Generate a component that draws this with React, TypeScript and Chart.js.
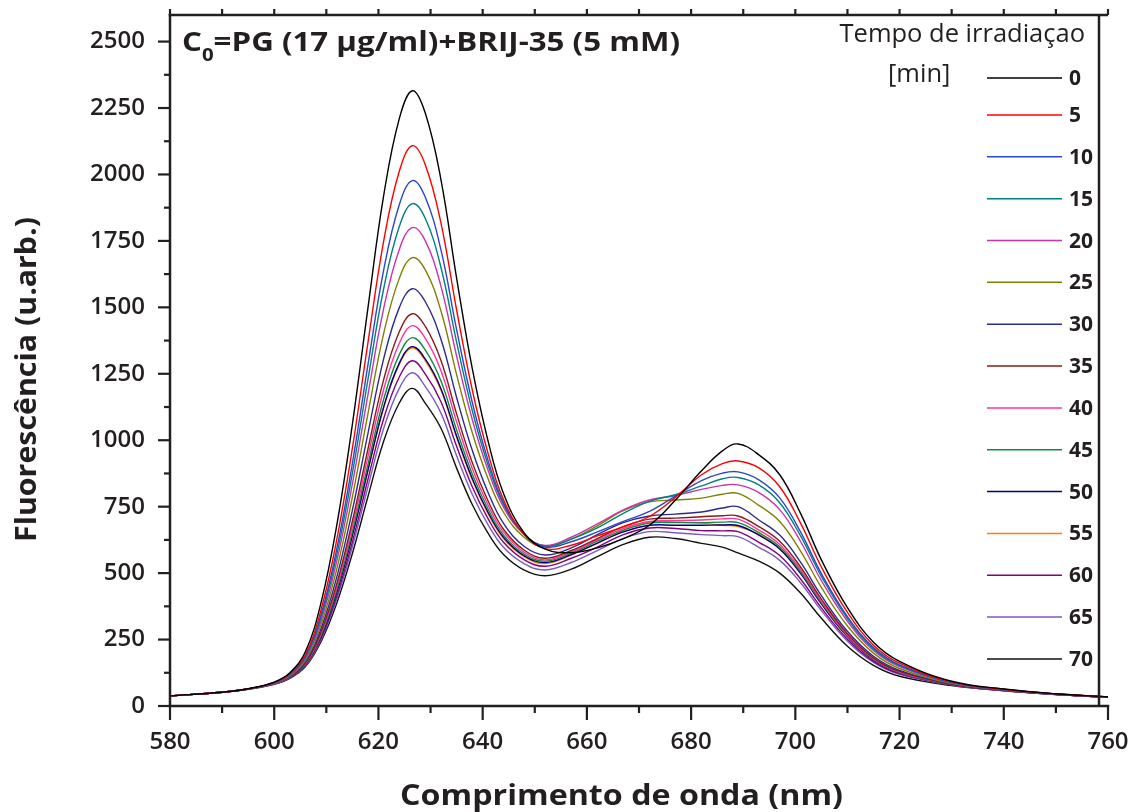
import React, { useEffect, useRef } from 'react';
import { Chart, registerables } from 'chart.js';

Chart.register(...registerables);

// ---- data -------------------------------------------------------------
const WAVELENGTHS = [580, 590, 595, 600, 603, 606, 609, 612, 615, 618, 621, 624, 626.5, 629, 632, 635, 638, 641, 644, 648, 652, 657, 662, 667, 672, 677, 682, 686, 689, 693, 697, 701, 705, 710, 715, 720, 730, 740, 750, 760];

const TIMES = ['0', '5', '10', '15', '20', '25', '30', '35', '40', '45', '50', '55', '60', '65', '70'];

const COLORS = ['#000000', '#ff0000', '#2a48c8', '#008080', '#cc33aa', '#808000', '#2b2b8c', '#8b1a1a', '#ff3399', '#128a3e', '#000080', '#ff7f00', '#800080', '#7a5cc4', '#111111'];

const T0 = [38, 52, 65, 90, 125, 205, 390, 680, 1060, 1500, 1920, 2210, 2315, 2230, 1980, 1610, 1270, 1000, 800, 650, 590, 577, 595, 630, 680, 775, 885, 960, 986, 945, 870, 725, 550, 370, 240, 168, 93, 64, 46, 34];
const T5 = [38, 52, 65, 89, 121, 194, 363, 626, 970, 1369, 1749, 2012, 2108, 2036, 1817, 1490, 1190, 953, 776, 644, 592, 605, 640, 675, 713, 785, 870, 912, 922, 896, 825, 688, 523, 352, 229, 161, 91, 63, 46, 34];
const T10 = [38, 52, 64, 88, 119, 188, 345, 591, 913, 1285, 1640, 1886, 1977, 1914, 1716, 1416, 1143, 926, 765, 645, 598, 618, 655, 695, 732, 790, 848, 876, 881, 851, 783, 655, 498, 336, 220, 155, 89, 62, 45, 34];
const T15 = [38, 52, 64, 87, 117, 183, 334, 569, 876, 1230, 1570, 1804, 1890, 1834, 1650, 1369, 1112, 909, 758, 646, 602, 628, 670, 725, 770, 795, 828, 855, 860, 832, 765, 640, 488, 329, 215, 152, 88, 62, 45, 34];
const T20 = [38, 52, 64, 86, 115, 179, 322, 545, 836, 1173, 1495, 1718, 1800, 1750, 1579, 1317, 1078, 889, 748, 644, 604, 635, 685, 738, 775, 792, 815, 830, 832, 803, 739, 619, 472, 319, 209, 148, 87, 62, 45, 34];
const T25 = [38, 52, 64, 86, 113, 173, 307, 515, 787, 1101, 1401, 1609, 1687, 1641, 1486, 1247, 1029, 857, 729, 634, 598, 628, 678, 735, 768, 775, 782, 797, 800, 755, 694, 583, 446, 301, 199, 141, 85, 61, 45, 33];
const T30 = [38, 52, 64, 85, 111, 167, 292, 485, 737, 1027, 1306, 1499, 1570, 1521, 1380, 1161, 962, 805, 687, 600, 568, 595, 645, 690, 715, 722, 730, 745, 750, 700, 643, 541, 415, 281, 187, 134, 83, 60, 44, 33];
const T35 = [38, 52, 64, 84, 109, 162, 280, 460, 696, 968, 1228, 1408, 1476, 1428, 1300, 1099, 916, 773, 665, 586, 556, 585, 630, 675, 703, 707, 712, 716, 715, 675, 620, 523, 402, 272, 181, 130, 82, 59, 44, 33];
const T40 = [38, 52, 64, 84, 109, 160, 274, 449, 676, 939, 1191, 1365, 1431, 1383, 1261, 1069, 894, 757, 654, 578, 550, 580, 625, 668, 694, 697, 700, 704, 703, 662, 608, 513, 394, 267, 178, 128, 82, 59, 44, 33];
const T45 = [38, 52, 64, 84, 108, 158, 268, 437, 656, 910, 1154, 1322, 1386, 1339, 1223, 1039, 873, 742, 643, 571, 545, 575, 620, 662, 688, 690, 690, 692, 690, 652, 599, 505, 389, 264, 176, 127, 81, 59, 44, 33];
const T50 = [38, 52, 64, 83, 107, 156, 263, 428, 642, 889, 1125, 1290, 1352, 1305, 1194, 1016, 856, 730, 635, 565, 540, 570, 613, 655, 680, 680, 680, 681, 679, 643, 591, 499, 384, 261, 174, 126, 81, 59, 44, 33];
const T55 = [38, 52, 64, 83, 107, 156, 263, 427, 640, 886, 1122, 1285, 1348, 1299, 1188, 1011, 851, 725, 630, 561, 536, 568, 612, 660, 692, 692, 688, 680, 675, 646, 593, 501, 386, 262, 175, 126, 81, 59, 44, 33];
const T60 = [38, 52, 64, 83, 106, 153, 256, 414, 618, 854, 1081, 1238, 1299, 1249, 1145, 977, 825, 706, 616, 550, 526, 556, 598, 645, 670, 668, 660, 659, 656, 616, 566, 478, 369, 251, 168, 122, 80, 58, 43, 33];
const T65 = [38, 52, 64, 83, 105, 151, 250, 402, 599, 826, 1044, 1195, 1254, 1202, 1102, 942, 797, 683, 597, 535, 512, 540, 585, 630, 656, 652, 645, 641, 637, 597, 548, 464, 359, 244, 164, 119, 79, 58, 43, 33];
const T70 = [38, 52, 63, 82, 104, 148, 243, 387, 574, 789, 996, 1140, 1195, 1139, 1045, 895, 758, 651, 570, 511, 490, 515, 562, 608, 635, 630, 612, 598, 576, 545, 500, 425, 330, 225, 153, 112, 77, 57, 43, 33];

const SERIES = [T0, T5, T10, T15, T20, T25, T30, T35, T40, T45, T50, T55, T60, T65, T70];

const X_TICKS = [580, 600, 620, 640, 660, 680, 700, 720, 740, 760];
const X_MINOR = [590, 610, 630, 650, 670, 690, 710, 730, 750];
const Y_TICKS = [0, 250, 500, 750, 1000, 1250, 1500, 1750, 2000, 2250, 2500];
const Y_MINOR = [125, 375, 625, 875, 1125, 1375, 1625, 1875, 2125, 2375];

const X_TITLE = 'Comprimento de onda (nm)';
const Y_TITLE = 'Fluorescência (u.arb.)';
const LEGEND_TITLE = 'Tempo de irradiaçao';
const LEGEND_UNIT = '[min]';

// ---- styling ------------------------------------------------------------
const FONT = '"Open Sans", "DejaVu Sans", sans-serif';
const INK = '#231f20';

// draw text stretched horizontally to a target width
function fitText(ctx: CanvasRenderingContext2D, text: string, x: number, y: number, width: number) {
  const w = ctx.measureText(text).width;
  const k = width / w;
  ctx.save();
  ctx.translate(x, y);
  ctx.scale(k, 1);
  ctx.fillText(text, 0, 0);
  ctx.restore();
}

const framePlugin = {
  id: 'frame',
  afterDraw(chart: any) {
    const ctx: CanvasRenderingContext2D = chart.ctx;
    const { left, right, top, bottom } = chart.chartArea;
    const xs = chart.scales.x;
    const ys = chart.scales.y;
    ctx.save();
    ctx.strokeStyle = INK;
    ctx.lineWidth = 2.5;
    const seg = (x1: number, y1: number, x2: number, y2: number) => {
      ctx.beginPath();
      ctx.moveTo(x1, y1);
      ctx.lineTo(x2, y2);
      ctx.stroke();
    };
    // frame
    seg(left, top - 1.25, left, bottom + 1.25);
    seg(left - 1.25, bottom, right + 1.25, bottom);
    seg(left - 1.25, top, right, top);
    const rb = right - 9;
    seg(rb, top, rb, bottom);

    // ticks
    ctx.lineWidth = 2.2;
    X_TICKS.forEach((v) => {
      const px = xs.getPixelForValue(v);
      seg(px, bottom, px, bottom + 14);
      seg(px, top, px, top - 6);
    });
    X_MINOR.forEach((v) => {
      const px = xs.getPixelForValue(v);
      seg(px, bottom, px, bottom + 7);
      seg(px, top, px, top - 6);
    });
    Y_TICKS.forEach((v) => {
      const py = ys.getPixelForValue(v);
      seg(left - 12, py, left, py);
    });
    Y_MINOR.forEach((v) => {
      const py = ys.getPixelForValue(v);
      seg(left - 6, py, left, py);
    });

    ctx.fillStyle = INK;
    // axis titles
    ctx.font = `bold 29px ${FONT}`;
    ctx.textAlign = 'left';
    ctx.textBaseline = 'middle';
    fitText(ctx, X_TITLE, 400, 797, 443);
    ctx.save();
    ctx.translate(28, 542);
    ctx.rotate(-Math.PI / 2);
    fitText(ctx, Y_TITLE, 0, 0, 325);
    ctx.restore();

    // chart title  C0=PG (17 μg/ml)+BRIJ-35 (5 mM)
    ctx.textBaseline = 'alphabetic';
    {
      const bigFont = `bold 26px ${FONT}`;
      const subFont = `bold 17px ${FONT}`;
      ctx.font = bigFont;
      const wC = ctx.measureText('C').width;
      const rest = '=PG (17 μg/ml)+BRIJ-35 (5 mM)';
      const wR = ctx.measureText(rest).width;
      ctx.font = subFont;
      const wS = ctx.measureText('0').width;
      const k = 498 / (wC + wS + wR);
      ctx.save();
      ctx.translate(182, 51);
      ctx.scale(k, 1);
      ctx.font = bigFont;
      ctx.fillText('C', 0, 0);
      ctx.font = subFont;
      ctx.fillText('0', wC, 10);
      ctx.font = bigFont;
      ctx.fillText(rest, wC + wS, 0);
      ctx.restore();
    }

    // legend
    ctx.font = `25.5px ${FONT}`;
    ctx.textAlign = 'right';
    ctx.fillText(LEGEND_TITLE, 1085, 42);
    ctx.textAlign = 'left';
    ctx.fillText(LEGEND_UNIT, 888, 82);

    ctx.font = `bold 21px ${FONT}`;
    ctx.textBaseline = 'middle';
    TIMES.forEach((t, i) => {
      const y = i === 0 ? 78 : 115 + (i - 1) * 41.84;
      ctx.strokeStyle = COLORS[i];
      ctx.lineWidth = 1.5;
      seg(987, y, 1062, y);
      ctx.fillStyle = INK;
      ctx.fillText(t, 1069, y + 1);
    });
    ctx.restore();
  },
};

export default function App() {
  const ref = useRef<HTMLCanvasElement>(null);
  useEffect(() => {
    const canvas = ref.current;
    if (!canvas) return;
    const datasets = SERIES.map((s, i) => ({
      label: TIMES[i],
      data: WAVELENGTHS.map((w, j) => ({ x: w, y: s[j] })),
      borderColor: COLORS[i],
      backgroundColor: COLORS[i],
      borderWidth: 1.4,
      pointRadius: 0,
      fill: false,
      tension: 0.4,
    }));
    const tickFont = { family: FONT, size: 24, weight: 600 as any };
    const chart = new Chart(canvas, {
      type: 'line',
      data: { datasets },
      options: {
        animation: false,
        responsive: false,
        devicePixelRatio: 1,
        layout: { padding: { left: 0, right: 26, top: 15, bottom: 0 } },
        plugins: {
          legend: { display: false },
          tooltip: { enabled: false },
          title: { display: false },
        },
        scales: {
          x: {
            type: 'linear',
            min: 580,
            max: 760,
            afterBuildTicks: (s: any) => {
              s.ticks = X_TICKS.map((v) => ({ value: v }));
            },
            afterFit: (s: any) => {
              s.height = 106;
            },
            grid: { display: false, drawTicks: true, tickLength: 22 },
            border: { display: false },
            ticks: {
              padding: 0,
              font: tickFont,
              color: INK,
              maxRotation: 0,
              autoSkip: false,
              callback: (v: any) => String(v),
            },
          },
          y: {
            type: 'linear',
            min: 0,
            max: 2600,
            afterBuildTicks: (s: any) => {
              s.ticks = Y_TICKS.map((v) => ({ value: v }));
            },
            afterFit: (s: any) => {
              s.width = 170;
            },
            grid: { display: false, drawTicks: true, tickLength: 25 },
            border: { display: false },
            ticks: {
              padding: 0,
              font: tickFont,
              color: INK,
              autoSkip: false,
              callback: (v: any) => String(v),
            },
          },
        },
      },
      plugins: [framePlugin],
    });
    return () => chart.destroy();
  }, []);

  return (
    <div style={{ position: 'fixed', left: 0, top: 0, width: 1134, height: 812, background: '#ffffff' }}>
      <canvas ref={ref} width={1134} height={812} style={{ width: 1134, height: 812, display: 'block' }} />
    </div>
  );
}
